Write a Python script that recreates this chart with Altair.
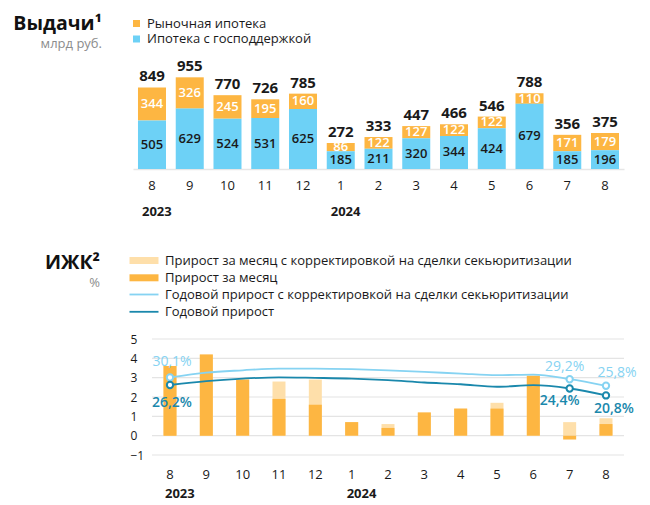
import altair as alt
import pandas as pd

# ---------------- data ----------------
months = ["2023-08", "2023-09", "2023-10", "2023-11", "2023-12", "2024-01", "2024-02",
          "2024-03", "2024-04", "2024-05", "2024-06", "2024-07", "2024-08"]
year_starts = ["2023-08", "2024-01"]
year_labels = ["2023", "2024"]

market = [344, 326, 245, 195, 160, 86, 122, 127, 122, 122, 110, 171, 179]
state = [505, 629, 524, 531, 625, 185, 211, 320, 344, 424, 679, 185, 196]
totals = [849, 955, 770, 726, 785, 272, 333, 447, 466, 546, 788, 356, 375]

monthly = [3.6, 4.2, 2.9, 1.9, 1.6, 0.7, 0.4, 1.2, 1.4, 1.4, 3.1, -0.2, 0.6]
monthly_adj = [3.6, 4.2, 2.9, 2.8, 2.9, 0.7, 0.6, 1.2, 1.4, 1.7, 3.1, 0.7, 0.9]
yoy_adj = [30.1, 32.6, 33.8, 34.7, 34.7, 34.4, 33.8, 33.0, 32.1, 31.3, 31.6, 29.2, 25.8]
yoy = [26.2, 28.2, 29.5, 30.2, 29.9, 29.5, 28.7, 27.5, 26.6, 25.3, 26.1, 24.4, 20.8]
labelled_months = ["2023-08", "2024-07", "2024-08"]
y_ticks = [-1, 0, 1, 2, 3, 4, 5]

S_MARKET = "Рыночная ипотека"
S_STATE = "Ипотека с господдержкой"
S_MADJ = "Прирост за месяц с корректировкой на сделки секьюритизации"
S_MON = "Прирост за месяц"
S_YADJ = "Годовой прирост с корректировкой на сделки секьюритизации"
S_YOY = "Годовой прирост"

# ---------------- style ----------------
FONT = "Open Sans"
ORANGE = "#FDB642"
BLUE = "#6DD1F6"
LIGHT_OR = "#FEDFAA"
LINE_LIGHT = "#86D3F2"
LINE_DARK = "#1A88AC"
TXT = "#1a1a1a"
W, H1, H2 = 491, 96, 116

n = len(months)
wide = pd.DataFrame({"month": months, "market": market, "state": state, "total": totals})
long1 = pd.DataFrame({"month": months * 2, "series": [S_MARKET] * n + [S_STATE] * n,
                      "value": market + state, "ord": [1] * n + [0] * n})
years_df = pd.DataFrame({"month": year_starts, "year": year_labels})

long2 = pd.DataFrame({"month": months * 2, "series": [S_MADJ] * n + [S_MON] * n,
                      "value": monthly_adj + monthly})
lines_df = pd.DataFrame({"month": months * 2, "series": [S_YADJ] * n + [S_YOY] * n,
                         "pct": yoy_adj + yoy})
grid_df = pd.DataFrame({"value": y_ticks})

# ---------------- top chart ----------------
x1 = alt.X("month:O", sort=months,
           scale=alt.Scale(paddingInner=0.258, paddingOuter=0.132),
           axis=alt.Axis(title=None, labelExpr="toNumber(slice(datum.value, 5))", labelAngle=0,
                         labelFontSize=13, labelColor=TXT, labelPadding=10, ticks=False,
                         domainColor="#e6e6e6", domainWidth=1.5))
yscale1 = alt.Scale(domain=[0, 1000], nice=False)

bars1 = alt.Chart(long1).mark_bar().encode(
    x=x1,
    y=alt.Y("value:Q", stack="zero", scale=yscale1, axis=None),
    fill=alt.Fill("series:N", scale=alt.Scale(domain=[S_MARKET, S_STATE], range=[ORANGE, BLUE]),
                  legend=alt.Legend(title=None, orient="none", legendX=-3, legendY=-56,
                                    symbolType="square", symbolSize=49, symbolStrokeWidth=0,
                                    labelFontSize=13, labelColor=TXT, labelOffset=4,
                                    rowPadding=1.5, padding=0, labelLimit=500)),
    order=alt.Order("ord:Q"),
)

lab_state = alt.Chart(wide).transform_calculate(mid="datum.state / 2").mark_text(
    fontSize=13, fontWeight=600, color=TXT).encode(
    x=x1, y=alt.Y("mid:Q", scale=yscale1, axis=None), text="state:Q")

lab_market = alt.Chart(wide).transform_calculate(mid="datum.state + datum.market / 2").mark_text(
    fontSize=13, fontWeight=600, color="white").encode(
    x=x1, y=alt.Y("mid:Q", scale=yscale1, axis=None), text="market:Q")

lab_total = alt.Chart(wide).mark_text(
    fontSize=15, fontWeight="bold", color=TXT, baseline="bottom", dy=-3).encode(
    x=x1, y=alt.Y("total:Q", scale=yscale1, axis=None), text="total:Q")

years1 = alt.Chart(years_df).mark_text(
    fontSize=13, fontWeight="bold", color=TXT, align="left", dx=-10).encode(
    x=x1, y=alt.value(H1 + 43), text="year:N")

top = alt.layer(bars1, lab_state, lab_market, lab_total, years1).properties(
    width=W, height=H1,
    title=alt.TitleParams("Выдачи¹", subtitle="млрд руб.", anchor="start", align="right", dx=-31,
                          fontSize=19.5, fontWeight="bold", color="#111",
                          subtitleFontSize=13, subtitleColor="#8c8c8c", subtitlePadding=4,
                          offset=-35, frame="group"))

# ---------------- bottom chart ----------------
x2 = alt.X("month:O", sort=months,
           scale=alt.Scale(paddingInner=0.642, paddingOuter=0.578, align=0.726),
           axis=alt.Axis(title=None, labelExpr="toNumber(slice(datum.value, 5))", labelAngle=0,
                         labelFontSize=13, labelColor=TXT, labelPadding=13, ticks=False,
                         domain=False))
yscale2 = alt.Scale(domain=[-1, 5], nice=False)
yax2 = alt.Axis(title=None, values=y_ticks, grid=False, domain=False, ticks=False,
                labelAlign="left", labelPadding=3, labelFontSize=12, labelColor=TXT)
y2 = alt.Y("value:Q", scale=yscale2, axis=yax2)

grid = alt.Chart(grid_df).mark_rule(color="#e4e4e4", strokeWidth=1.2).encode(
    y=y2, x=alt.value(19), x2=alt.value(W))

fill2 = alt.Fill("series:N", scale=alt.Scale(domain=[S_MADJ, S_MON], range=[LIGHT_OR, ORANGE]),
                 legend=alt.Legend(title=None, orient="none", legendX=4.5, legendY=-85,
                                   symbolType="M-2.9,-0.7H2.9V0.7H-2.9Z", symbolSize=100,
                                   symbolStrokeWidth=0, labelFontSize=13, labelColor=TXT,
                                   labelOffset=14.5, rowPadding=3.3, padding=0, labelLimit=700))

bar_adj = alt.Chart(long2).transform_filter(alt.datum.series == S_MADJ).mark_bar().encode(
    x=x2, y=y2, fill=fill2)
bar_mon = alt.Chart(long2).transform_filter(alt.datum.series == S_MON).mark_bar().encode(
    x=x2, y=y2, fill=fill2)

lines = alt.Chart(lines_df).transform_calculate(value="datum.pct / 10").mark_line(
    interpolate="monotone", strokeWidth=1.8).encode(
    x=x2, y=y2,
    stroke=alt.Stroke("series:N", scale=alt.Scale(domain=[S_YADJ, S_YOY], range=[LINE_LIGHT, LINE_DARK]),
                      legend=alt.Legend(title=None, orient="none", legendX=4.5, legendY=-51,
                                        symbolType="M-2.9,0H2.9", symbolSize=100,
                                        symbolStrokeWidth=1.8, labelFontSize=13, labelColor=TXT,
                                        labelOffset=14.5, rowPadding=3.3, padding=0, labelLimit=700)))

label_style = {
    (S_YADJ, "2023-08"): (2, -15), (S_YADJ, "2024-07"): (-5, -12), (S_YADJ, "2024-08"): (11, -13),
    (S_YOY, "2023-08"): (2, 18), (S_YOY, "2024-07"): (-10, 13), (S_YOY, "2024-08"): (8, 14),
}
series_style = {S_YADJ: (LINE_LIGHT, 500), S_YOY: (LINE_DARK, 600)}

pts_layers = []
for s, (col, wt) in series_style.items():
    base = alt.Chart(lines_df).transform_filter(alt.datum.series == s).transform_filter(
        alt.FieldOneOfPredicate(field="month", oneOf=labelled_months)).transform_calculate(
        value="datum.pct / 10")
    pts_layers.append(base.mark_point(shape="circle", size=40, strokeWidth=2, fill="white",
                                      fillOpacity=1, stroke=col, opacity=1).encode(x=x2, y=y2))
for (s, m), (dx, dy) in label_style.items():
    col, wt = series_style[s]
    t = alt.Chart(lines_df).transform_filter(alt.datum.series == s).transform_filter(
        alt.datum.month == m).transform_calculate(
        value="datum.pct / 10",
        lbl="replace(format(datum.pct, '.1f'), '.', ',') + '%'").mark_text(
        fontSize=14, fontWeight=wt, color=col, dx=dx, dy=dy).encode(x=x2, y=y2, text="lbl:N")
    pts_layers.append(t)

years2 = alt.Chart(years_df).mark_text(
    fontSize=13, fontWeight="bold", color=TXT, align="left", dx=-5).encode(
    x=x2, y=alt.value(H2 + 39), text="year:N")

bottom = alt.layer(grid, bar_adj, bar_mon, lines, *pts_layers, years2).properties(
    width=W, height=H2,
    title=alt.TitleParams("ИЖК²", subtitle="%", anchor="start", align="right", dx=-33,
                          fontSize=19.5, fontWeight="bold", color="#111",
                          subtitleFontSize=13, subtitleColor="#8c8c8c", subtitlePadding=4,
                          offset=-37, frame="group"))

chart = alt.vconcat(top, bottom, spacing=170, bounds="flush").resolve_scale(
    fill="independent", stroke="independent").resolve_legend(
    fill="independent", stroke="independent").configure(
    font=FONT).configure_view(stroke=None)

chart.save("out.html", embed_options={"renderer": "svg", "actions": False})
